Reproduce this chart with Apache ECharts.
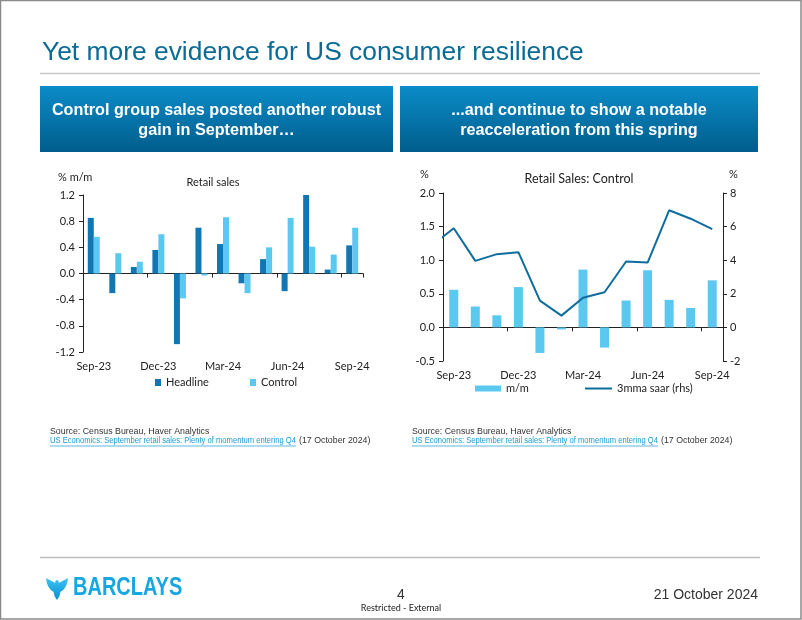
<!DOCTYPE html>
<html>
<head>
<meta charset="utf-8">
<script src="https://cdn.jsdelivr.net/npm/echarts@6/dist/echarts.min.js"></script>
<style>
html,body{margin:0;padding:0;background:#fff;}
#c{width:802px;height:620px;}
</style>
</head>
<body>
<div id="c"></div>
<script>
// ---- Data ----
const months = ['Sep-23','Oct-23','Nov-23','Dec-23','Jan-24','Feb-24','Mar-24','Apr-24','May-24','Jun-24','Jul-24','Aug-24','Sep-24'];
const headline = [0.85,-0.30,0.10,0.36,-1.08,0.70,0.45,-0.15,0.22,-0.27,1.20,0.06,0.43];
const control  = [0.56,0.31,0.18,0.60,-0.38,-0.03,0.86,-0.30,0.40,0.85,0.41,0.29,0.70];
// 3mma saar of control sales (rhs); first value is Aug-23 (partly visible at left edge)
const saarMonths = ['Aug-23'].concat(months);
const controlSaar = [4.9,5.9,3.96,4.36,4.48,1.59,0.70,1.77,2.09,3.92,3.86,6.97,6.47,5.85];
const leftTicks = [-1.2,-0.8,-0.4,0.0,0.4,0.8,1.2];
const rightLhsTicks = [-0.5,0.0,0.5,1.0,1.5,2.0];
const rightRhsTicks = [-2,0,2,4,6,8];

// ---- Styles ----
const chartFont = 'Lato, "Noto Sans", sans-serif';
const slideFont = '"Liberation Sans", Arial, sans-serif';
const cHead = '#1176b2';
const cCtrl = '#5bc8f0';
const cLine = '#0f6d9e';
const axisCol = '#222';
const labelCol = '#222';

function measure(text, font){
  const cv = document.createElement('canvas').getContext('2d');
  cv.font = font; return cv.measureText(text).width;
}

const chart = echarts.init(document.getElementById('c'), null, {renderer:'canvas'});

function valueAxis(grid, min, max, interval, pos, digits){
  return {
    type:'value', gridIndex:grid, min:min, max:max, interval:interval, position:pos,
    axisLine:{show:true, onZero:false, lineStyle:{color:axisCol, width:1}},
    axisTick:{show:true, length:4, lineStyle:{color:axisCol}},
    splitLine:{show:false},
    axisLabel:{color:labelCol, fontFamily:chartFont, fontSize:11, margin:pos==='right'?7:8,
      formatter:function(v){ return digits ? v.toFixed(digits) : String(Math.round(v)); }}
  };
}
function zeroCatAxis(grid){
  return {type:'category', gridIndex:grid, data:months, position:'bottom',
    axisLine:{show:true, onZero:true, lineStyle:{color:axisCol, width:1}},
    axisTick:{show:true, interval:2, length:4, lineStyle:{color:axisCol}},
    axisLabel:{show:false}, splitLine:{show:false}};
}
function labelCatAxis(grid){
  return {type:'category', gridIndex:grid, data:months, position:'bottom',
    axisLine:{show:false, onZero:false}, axisTick:{show:false},
    axisLabel:{interval:2, color:labelCol, fontFamily:chartFont, fontSize:11, margin:9},
    splitLine:{show:false}};
}

const linkText = 'US Economics: September retail sales: Plenty of momentum entering Q4';
const dateText = '(17 October 2024)';
const srcFont = '8.8px "Liberation Sans", Arial, sans-serif';
const linkNatW = measure(linkText, srcFont);
const linkTargetW = 246;
const linkScale = linkTargetW / linkNatW;

function sourceBlock(x){
  return [
    {type:'text', x:x, y:427.5, style:{text:'Source: Census Bureau, Haver Analytics', font:srcFont, fill:'#333'}},
    {type:'text', x:x, y:436.5, scaleX:linkScale, style:{text:linkText, font:srcFont, fill:'#1a9ad6'}},
    {type:'text', x:x+linkTargetW+3, y:436.5, style:{text:dateText, font:srcFont, fill:'#333'}},
    {type:'line', shape:{x1:x, y1:446, x2:x+linkTargetW, y2:446}, style:{stroke:'#1a9ad6', lineWidth:0.7}}
  ];
}
function headerBox(x, w, lines){
  return [
    {type:'rect', shape:{x:x, y:86, width:w, height:66},
      style:{fill:{type:'linear', x:0, y:0, x2:0, y2:1, colorStops:[{offset:0,color:'#0b8cc8'},{offset:1,color:'#005d8c'}]}}},
    {type:'text', x:x+w/2, y:121, style:{text:lines, font:'bold 16.2px "Liberation Sans", Arial, sans-serif',
      fill:'#fff', align:'center', verticalAlign:'middle', lineHeight:20}}
  ];
}

const eaglePts = [[12,3],[13.6,4],[13.7,6],[17,4.2],[23,1],[22.2,6],[20.6,9.8],[18.2,13],[15.4,15],[14.3,19.5],[12,23],
  [9.7,19.5],[8.6,15],[5.8,13],[3.4,9.8],[1.8,6],[1,1],[7,4.2],[10.3,6],[10.4,4]];

const graphics = [].concat(
  [
    {type:'rect', shape:{x:0.5, y:0.5, width:800.5, height:618.5}, style:{fill:'none', stroke:'#8a8a8a', lineWidth:1.5}, z:100},
    {type:'text', x:42, y:40, style:{text:'Yet more evidence for US consumer resilience', font:'26.4px "Liberation Sans", Arial, sans-serif', fill:'#0b6b94'}},
    {type:'line', shape:{x1:40, y1:73.5, x2:760, y2:73.5}, style:{stroke:'#c9c9c9', lineWidth:1.5}},
    {type:'line', shape:{x1:40, y1:557.5, x2:760, y2:557.5}, style:{stroke:'#bdbdbd', lineWidth:1.5}},
    // axis unit labels
    {type:'text', x:58, y:172, style:{text:'% m/m', font:'11px '+chartFont, fill:labelCol}},
    {type:'text', x:420, y:169, style:{text:'%', font:'11px '+chartFont, fill:labelCol}},
    {type:'text', x:729, y:169, style:{text:'%', font:'11px '+chartFont, fill:labelCol}},
    // footer
    {type:'polygon', x:45, y:577, shape:{points:eaglePts},
      style:{fill:{type:'linear', x:0, y:0, x2:0, y2:1, colorStops:[{offset:0,color:'#3cc3f2'},{offset:1,color:'#0a8fd2'}]}}},
    {type:'text', x:73, y:576, scaleX:0.8, style:{text:'BARCLAYS', font:'bold 25px "Liberation Sans", Arial, sans-serif', fill:'#16a6e2'}},
    {type:'text', x:401, y:595, style:{text:'4', font:'14px '+slideFont, fill:'#333', align:'center', verticalAlign:'middle'}},
    {type:'text', x:401, y:608, style:{text:'Restricted - External', font:'9px '+chartFont, fill:'#222', align:'center', verticalAlign:'middle'}},
    {type:'text', x:758, y:595, style:{text:'21 October 2024', font:'14px '+slideFont, fill:'#333', align:'right', verticalAlign:'middle'}}
  ],
  headerBox(40, 353, 'Control group sales posted another robust\ngain in September…'),
  headerBox(400, 358, '...and continue to show a notable\nreacceleration from this spring'),
  sourceBlock(50),
  sourceBlock(412)
);

const option = {
  animation:false,
  backgroundColor:'#fff',
  textStyle:{fontFamily:chartFont},
  title:[
    {text:'Retail sales', left:213, top:177, textAlign:'center', textStyle:{fontFamily:chartFont, fontSize:11, fontWeight:'normal', color:labelCol}, padding:0},
    {text:'Retail Sales: Control', left:579, top:172, textAlign:'center', textStyle:{fontFamily:chartFont, fontSize:12.5, fontWeight:'normal', color:labelCol}, padding:0}
  ],
  grid:[
    {left:83, top:195, width:280, height:157},
    {left:443, top:193, width:280, height:168}
  ],
  xAxis:[
    zeroCatAxis(0), labelCatAxis(0),
    zeroCatAxis(1), labelCatAxis(1),
    {type:'value', gridIndex:1, min:-0.5, max:12.5, show:false, position:'bottom'}
  ],
  yAxis:[
    valueAxis(0, leftTicks[0], leftTicks[leftTicks.length-1], 0.4, 'left', 1),
    valueAxis(1, rightLhsTicks[0], rightLhsTicks[rightLhsTicks.length-1], 0.5, 'left', 1),
    valueAxis(1, rightRhsTicks[0], rightRhsTicks[rightRhsTicks.length-1], 2, 'right', 0)
  ],
  legend:[
    {data:['Headline'], left:155, top:377, icon:'rect', itemWidth:6, itemHeight:7, padding:0, textStyle:{fontFamily:chartFont, fontSize:11, color:labelCol}},
    {data:['Control'], left:250, top:377, icon:'rect', itemWidth:6, itemHeight:7, padding:0, textStyle:{fontFamily:chartFont, fontSize:11, color:labelCol}},
    {data:['m/m'], left:475, top:383, icon:'rect', itemWidth:26, itemHeight:6, padding:0, textStyle:{fontFamily:chartFont, fontSize:11, color:labelCol}},
    {data:['3mma saar (rhs)'], left:585, top:383, icon:'rect', itemWidth:27, itemHeight:2, padding:0, textStyle:{fontFamily:chartFont, fontSize:11, color:labelCol}}
  ],
  series:[
    {name:'Headline', type:'bar', xAxisIndex:0, yAxisIndex:0, data:headline, barWidth:6, barGap:'0%', itemStyle:{color:cHead}},
    {name:'Control', type:'bar', xAxisIndex:0, yAxisIndex:0, data:control, barWidth:6, barGap:'0%', itemStyle:{color:cCtrl}},
    {name:'m/m', type:'bar', xAxisIndex:2, yAxisIndex:1, data:control, barWidth:9, itemStyle:{color:cCtrl}},
    {name:'3mma saar (rhs)', type:'line', xAxisIndex:4, yAxisIndex:2, clip:true, symbol:'none', showSymbol:false,
      data:controlSaar.map(function(v,i){ return [i-1, v]; }),
      lineStyle:{color:cLine, width:2}, itemStyle:{color:cLine}, z:3}
  ],
  graphic:graphics
};
chart.setOption(option);
</script>
</body>
</html>
